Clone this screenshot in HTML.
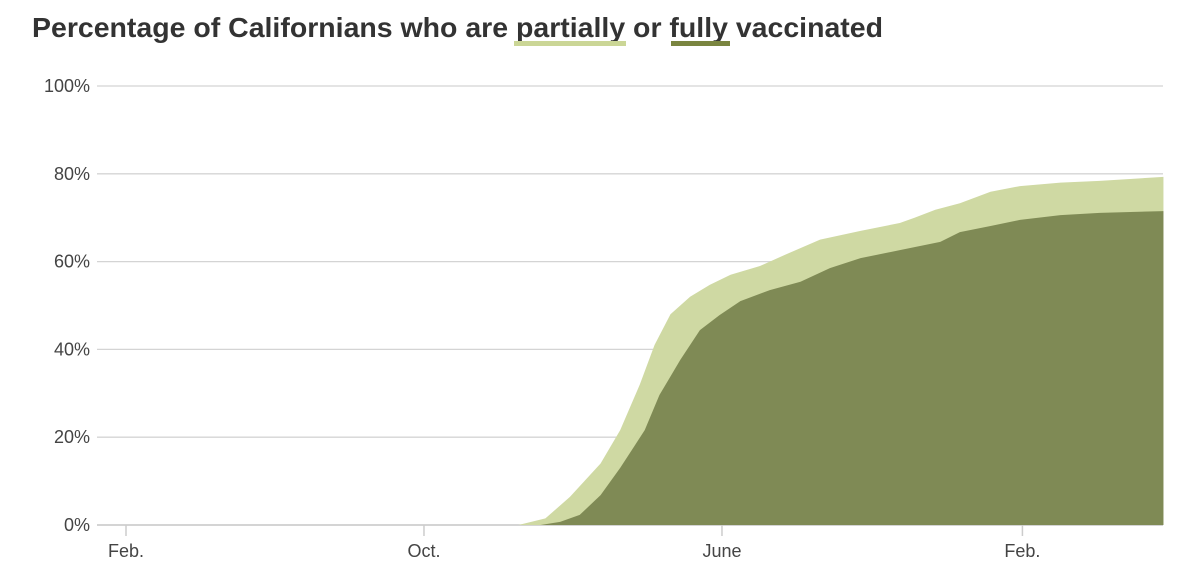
<!DOCTYPE html>
<html><head><meta charset="utf-8"><style>
html,body{margin:0;padding:0;background:#fff;width:1200px;height:579px;overflow:hidden}
svg{display:block;font-family:"Liberation Sans",sans-serif}
</style></head><body>
<svg id="chart" width="1200" height="579">
<text x="32" y="37" font-size="28" font-weight="bold" fill="#333" textLength="851" lengthAdjust="spacingAndGlyphs">Percentage of Californians who are partially or fully vaccinated</text>
<rect x="514" y="41" width="112" height="5" fill="#cbd696"/>
<rect x="671" y="41" width="59" height="5" fill="#7a8540"/>
<g id="grid"></g><g id="areas"></g><g id="xaxis"></g>
</svg>
<script>
const yTicks=[0,20,40,60,80,100];
const xTickLabels=["Feb.","Oct.","June","Feb."];
const xTickDays=[0,243,486,731];
const partialDays=[320,342,362,387,403,419,431,444,460,476,493,517,541,566,599,631,643,660,680,705,729,762,794,846];
const partialPct=[0,1.5,6.4,14,21.6,32,41,48,52,54.7,57,59,62,65,67,68.8,70,71.8,73.3,75.9,77.2,78,78.4,79.3];
const fullDays=[338,354,370,387,403,423,435,452,468,484,501,525,550,574,599,631,664,680,705,729,762,794,846];
const fullPct=[0,0.7,2.3,6.8,13,21.6,29.6,37.6,44.4,47.8,51,53.5,55.4,58.5,60.8,62.6,64.5,66.7,68.1,69.5,70.6,71.1,71.5];
const NS="http://www.w3.org/2000/svg";
const x=d=>126+d*1.2263, y=v=>525-v*4.39;
function mk(t,a,p){const e=document.createElementNS(NS,t);for(const k in a)e.setAttribute(k,a[k]);p.appendChild(e);return e;}
const grid=document.getElementById('grid');
yTicks.forEach(v=>{
  const l=mk('line',{x1:97,x2:1163,y1:y(v),y2:y(v),stroke:v===0?'#bbb':'#d4d4d4','stroke-width':1.3},grid);
  
  
  const t=mk('text',{x:90,y:y(v)+6,'text-anchor':'end','font-size':18,fill:'#444'},grid);
  t.textContent=v+'%';
  
  
});
function area(days,pct,fill,name){
  let d='M'+x(days[0])+','+y(0);
  days.forEach((dd,i)=>{d+=' L'+x(dd)+','+y(pct[i]);});
  d+=' L'+x(days[days.length-1])+','+y(0)+' Z';
  const p=mk('path',{d:d,fill:fill},document.getElementById('areas'));
  
  
}
area(partialDays,partialPct,'#cfd9a3','partially-vaccinated-area');
area(fullDays,fullPct,'#7f8a55','fully-vaccinated-area');
const xa=document.getElementById('xaxis');
xTickDays.forEach((d,i)=>{
  const l=mk('line',{x1:x(d),x2:x(d),y1:525,y2:536,stroke:'#ccc','stroke-width':1.5},xa);
  
  
  const t=mk('text',{x:x(d),y:557,'text-anchor':'middle','font-size':18,fill:'#444'},xa);
  t.textContent=xTickLabels[i];
  
  
});
</script>
</body></html>
